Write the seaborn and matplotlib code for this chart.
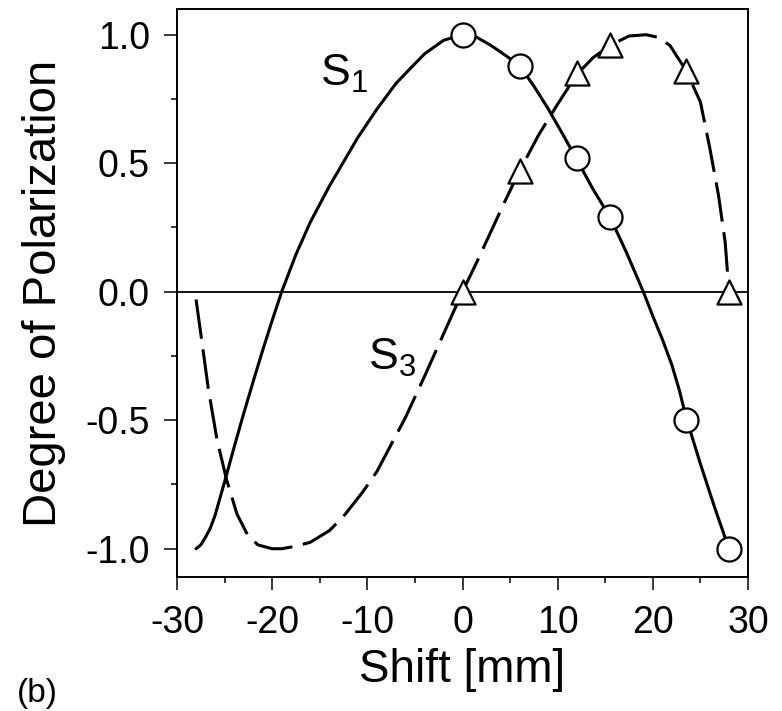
import numpy as np
import pandas as pd
import seaborn as sns
import matplotlib.pyplot as plt
from matplotlib.ticker import MultipleLocator

# curves
s1_curve_x = [-28.0, -27.5, -27.0, -26.5, -26.0, -25.0, -24.0, -23.0, -22.0, -21.0, -20.0, -19.0,
              -17.5, -16.0, -14.0, -12.5, -11.0, -9.0, -7.0, -5.5, -4.0, -2.0, 0.0,
              1.5, 3.0, 4.5, 6.0, 7.5, 9.0, 10.5, 12.0, 13.7, 15.5, 17.2, 19.0,
              20.0, 21.0, 22.0, 22.8, 23.5, 25.0, 26.5, 28.0]
s1_curve_y = [-1.00, -0.985, -0.955, -0.92, -0.87, -0.74, -0.605, -0.475, -0.35, -0.228, -0.112, 0.0,
              0.145, 0.27, 0.41, 0.505, 0.60, 0.71, 0.81, 0.868, 0.925, 0.978, 1.0,
              0.99, 0.958, 0.92, 0.88, 0.80, 0.712, 0.615, 0.515, 0.40, 0.29, 0.155, 0.0,
              -0.095, -0.185, -0.285, -0.385, -0.49, -0.67, -0.84, -1.00]

s3_curve_x = [-28.0, -27.4, -26.7, -25.8, -24.8, -23.7, -22.6, -21.5, -20.0, -19.0,
              -17.5, -16.0, -14.0, -12.5, -10.5, -9.0, -7.5, -6.0, -4.0, -2.0, 0.0,
              1.5, 3.0, 4.5, 6.0, 8.0, 10.0, 12.0, 13.7, 15.5, 17.5, 19.3, 20.5,
              21.8, 23.5, 25.0, 26.0, 26.9, 27.6, 28.0]
s3_curve_y = [-0.03, -0.19, -0.38, -0.575, -0.73, -0.865, -0.945, -0.985, -1.0, -1.0,
              -0.99, -0.975, -0.93, -0.874, -0.78, -0.70, -0.595, -0.49, -0.33, -0.165, 0.0,
              0.115, 0.235, 0.355, 0.47, 0.61, 0.73, 0.845, 0.91, 0.958, 0.995, 1.0, 0.99,
              0.958, 0.86, 0.738, 0.556, 0.375, 0.193, 0.0]

# measured points
shift_points = [0, 6, 12, 15.5, 23.5, 28]
s1_points = [1.0, 0.88, 0.52, 0.29, -0.5, -1.0]
s3_points = [0.0, 0.47, 0.85, 0.96, 0.86, 0.0]

sns.set_style("ticks")
plt.rcParams['font.family'] = ['Liberation Sans', 'DejaVu Sans']
plt.rcParams['mathtext.fontset'] = 'custom'
plt.rcParams['mathtext.rm'] = 'Liberation Sans'
plt.rcParams['axes.unicode_minus'] = False
plt.rcParams['text.color'] = 'black'
plt.rcParams['axes.labelcolor'] = 'black'
plt.rcParams['xtick.color'] = 'black'
plt.rcParams['ytick.color'] = 'black'

s1_df = pd.DataFrame({'shift': s1_curve_x, 'pol': s1_curve_y})
s3_df = pd.DataFrame({'shift': s3_curve_x, 'pol': s3_curve_y})
pts = pd.DataFrame({'shift': shift_points, 's1': s1_points, 's3': s3_points})

fig = plt.figure(figsize=(7.82, 7.11), dpi=100)
ax = fig.add_axes([177 / 782, 1 - 577 / 711, 571 / 782, 568 / 711])

ax.axhline(0, color='black', lw=1.3, zorder=1)
sns.lineplot(data=s1_df, x='shift', y='pol', ax=ax, color='black', lw=2.2,
             sort=False, estimator=None, zorder=2)
sns.lineplot(data=s3_df, x='shift', y='pol', ax=ax, color='black', lw=2.2,
             sort=False, estimator=None, linestyle=(0, (13, 3.5)), zorder=2)
sns.scatterplot(data=pts, x='shift', y='s1', ax=ax, marker='o', s=300,
                color='white', edgecolor='black', linewidth=1.6, zorder=3)
sns.scatterplot(data=pts, x='shift', y='s3', ax=ax, marker='^', s=300,
                color='white', edgecolor='black', linewidth=1.6, zorder=3)

ax.text(-15, 0.80, r'S$_{\mathrm{1}}$', fontsize=32, ha='left', va='baseline')
ax.text(-9.9, -0.305, r'S$_{\mathrm{3}}$', fontsize=32, ha='left', va='baseline')

ax.set_xlim(-30, 30)
ax.set_ylim(-1.11, 1.10)
ax.xaxis.set_major_locator(MultipleLocator(10))
ax.xaxis.set_minor_locator(MultipleLocator(5))
ax.yaxis.set_minor_locator(MultipleLocator(0.25))
ax.set_yticks([-1.0, -0.5, 0.0, 0.5, 1.0])
ax.set_yticklabels(['-1.0', '-0.5', '0.0', '0.5', '1.0'])
ax.tick_params(which='major', length=9.4, width=1.1, labelsize=27, pad=11)
ax.tick_params(which='minor', length=4.3, width=1.1)
ax.tick_params(axis='y', pad=10)
for sp in ax.spines.values():
    sp.set_linewidth(1.4)
    sp.set_color('black')

ax.set_xlabel('Shift [mm]', fontsize=33, labelpad=5)
ax.set_ylabel('Degree of Polarization', fontsize=34, labelpad=14)

fig.text(17 / 782, 0.013, '(b)', fontsize=24, ha='left', va='baseline')

fig.savefig('out.png', dpi=100)
